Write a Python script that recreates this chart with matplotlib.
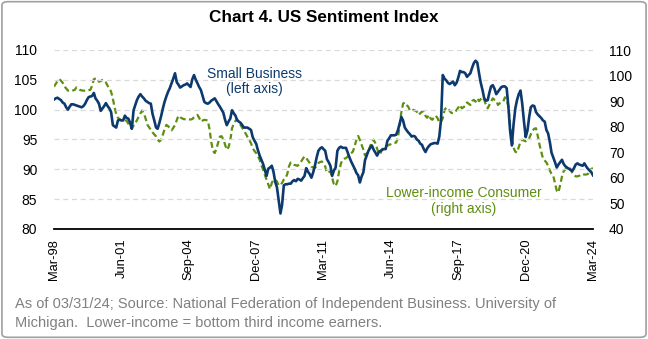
import matplotlib
matplotlib.use("Agg")
import matplotlib.pyplot as plt
import pandas as pd
import numpy as np
from matplotlib.patches import FancyBboxPatch

plt.rcParams['font.family'] = ['Liberation Sans', 'DejaVu Sans']

# Monthly data, Mar-1998 .. Mar-2024
dates = pd.date_range('1998-03-01', periods=313, freq='MS')

small_business = [
    # 1998 (Mar-Dec)
    101.7, 101.9, 102.0, 101.8, 101.6, 101.2, 101.0, 100.4, 100.0, 100.5,
    # 1999
    100.9, 100.9, 100.8, 100.7, 100.6, 100.5, 100.4, 100.6, 101.0, 101.6, 102.1, 102.2,
    # 2000
    102.3, 102.8, 101.9, 101.5, 101.0, 99.8, 100.2, 100.6, 101.1, 100.6, 100.2, 99.6,
    # 2001
    97.4, 97.2, 97.0, 98.2, 98.3, 98.2, 98.2, 99.0, 98.6, 98.5, 97.8, 96.8,
    # 2002
    99.9, 100.8, 101.6, 102.2, 102.6, 102.2, 101.9, 101.5, 101.3, 101.1, 101.0, 99.3,
    # 2003
    98.2, 97.0, 96.8, 97.8, 98.9, 100.2, 101.3, 102.2, 103.0, 103.6, 104.4, 105.2,
    # 2004
    106.1, 104.6, 104.2, 103.7, 103.9, 104.1, 104.2, 104.4, 104.1, 103.8, 105.1, 105.8,
    # 2005
    105.0, 104.4, 103.8, 103.3, 102.3, 101.3, 101.1, 101.0, 101.2, 101.5, 101.7, 101.9,
    # 2006
    101.4, 100.9, 100.5, 100.0, 99.5, 98.3, 97.4, 98.0, 98.5, 99.9, 99.4, 99.0,
    # 2007
    98.2, 98.0, 97.8, 97.4, 97.0, 97.0, 97.0, 96.8, 96.6, 95.4, 94.8, 94.3,
    # 2008
    93.2, 92.3, 91.6, 90.9, 89.9, 88.9, 90.1, 90.3, 90.6, 89.6, 87.9, 87.0,
    # 2009
    84.8, 82.6, 84.0, 87.3, 87.5, 87.5, 87.6, 87.6, 88.0, 88.2, 88.0, 88.4,
    # 2010
    88.3, 88.1, 88.5, 88.9, 90.2, 89.6, 89.2, 88.6, 89.5, 90.6, 92.0, 93.1,
    # 2011
    93.5, 93.7, 93.4, 93.1, 91.7, 91.2, 90.6, 88.9, 89.8, 90.3, 93.1, 93.6,
    # 2012
    93.8, 93.6, 93.6, 93.6, 92.8, 92.0, 91.3, 90.7, 90.1, 89.4, 89.0, 87.8,
    # 2013
    88.8, 89.5, 91.5, 92.3, 93.1, 93.6, 94.0, 93.3, 92.8, 92.3, 92.9, 93.1,
    # 2014
    93.3, 93.4, 93.4, 94.8, 95.2, 95.7, 95.7, 95.7, 95.8, 96.5, 97.6, 98.8,
    # 2015
    98.2, 97.0, 96.6, 96.2, 95.9, 95.5, 95.6, 95.5, 95.0, 94.8, 94.3, 94.1,
    # 2016
    93.4, 92.9, 93.5, 93.9, 94.2, 94.3, 94.4, 94.4, 94.3, 95.5, 98.4, 105.8,
    # 2017
    105.2, 104.9, 104.5, 104.3, 104.5, 104.7, 104.1, 104.5, 105.4, 106.5, 106.3, 106.3,
    # 2018
    106.1, 105.5, 105.8, 106.1, 107.0, 107.8, 108.2, 107.9, 106.1, 104.5, 103.3, 101.9,
    # 2019
    101.5, 101.6, 102.8, 103.9, 104.1, 103.5, 102.6, 103.0, 103.4, 103.8, 103.9, 103.9,
    # 2020
    103.6, 100.4, 96.5, 94.0, 97.5, 100.2, 101.6, 102.6, 103.2, 101.0, 98.0, 95.4,
    # 2021
    96.5, 98.8, 100.4, 100.7, 100.6, 99.6, 99.2, 98.9, 98.6, 98.2, 98.0, 96.6,
    # 2022
    96.0, 94.5, 92.8, 92.0, 91.2, 90.3, 90.8, 91.2, 91.6, 90.9, 90.5, 90.3,
    # 2023
    90.1, 89.9, 89.7, 90.2, 90.8, 91.0, 90.8, 90.7, 90.6, 91.0, 90.5, 90.1,
    # 2024 (Jan-Mar)
    89.8, 89.5, 89.0,
]

lower_income = [
    # 1998 (Mar-Dec)
    95.7, 96.8, 97.8, 98.6, 98.0, 97.2, 95.7, 95.0, 94.1, 94.1,
    # 1999
    94.1, 94.2, 94.4, 95.4, 95.0, 94.4, 94.2, 94.1, 94.1, 94.1, 94.3, 94.4,
    # 2000
    96.0, 98.6, 98.8, 98.9, 97.6, 97.8, 98.3, 97.8, 97.3, 96.0, 95.0, 93.7,
    # 2001
    91.0, 87.5, 85.0, 83.5, 82.9, 82.5, 82.1, 82.5, 82.3, 81.2, 80.0, 79.3,
    # 2002
    80.4, 81.5, 82.5, 84.0, 85.2, 86.3, 85.3, 83.2, 80.8, 79.8, 78.8, 77.8,
    # 2003
    77.0, 76.2, 75.0, 74.2, 75.0, 76.9, 79.0, 80.7, 80.2, 79.5, 78.6, 79.5,
    # 2004
    80.7, 82.5, 84.3, 83.7, 83.3, 83.0, 82.9, 82.9, 82.9, 82.8, 83.0, 83.7,
    # 2005
    84.2, 84.6, 83.5, 82.0, 82.4, 82.7, 82.6, 82.4, 79.0, 74.0, 70.5, 69.7,
    # 2006
    71.5, 74.0, 76.1, 76.3, 75.1, 73.0, 71.0, 72.0, 74.5, 79.4, 81.0, 82.3,
    # 2007
    82.9, 81.5, 80.7, 79.5, 78.5, 77.2, 76.0, 74.9, 73.5, 71.6, 70.5, 69.7,
    # 2008
    68.5, 67.1, 65.0, 63.2, 61.2, 59.3, 57.5, 55.6, 58.0, 59.3, 59.2, 58.6,
    # 2009
    57.0, 57.3, 58.0, 59.3, 59.8, 61.5, 64.5, 66.0, 65.8, 65.1, 64.9, 64.7,
    # 2010
    65.5, 66.4, 67.4, 68.4, 67.7, 66.8, 65.8, 64.4, 64.0, 63.9, 64.7, 65.8,
    # 2011
    66.2, 66.4, 65.5, 64.4, 62.0, 62.3, 62.5, 60.0, 57.5, 56.8, 58.6, 62.5,
    # 2012
    65.5, 67.1, 67.5, 67.7, 68.4, 69.0, 69.6, 70.3, 72.5, 74.9, 76.4, 74.9,
    # 2013
    73.0, 71.0, 68.8, 69.5, 70.3, 72.5, 74.0, 74.9, 73.5, 71.5, 69.3, 69.7,
    # 2014
    71.2, 72.1, 72.3, 72.6, 72.9, 73.2, 73.6, 73.7, 73.8, 75.5, 80.1, 85.5,
    # 2015
    89.0, 89.5, 88.5, 87.9, 86.4, 86.2, 86.6, 86.3, 85.9, 84.6, 85.3, 85.9,
    # 2016
    85.9, 84.2, 83.5, 84.6, 83.2, 82.7, 83.8, 84.3, 83.3, 81.6, 82.0, 83.3,
    # 2017
    86.6, 87.5, 87.2, 86.2, 85.4, 85.3, 85.6, 86.5, 87.5, 88.5, 87.2, 87.6,
    # 2018
    88.2, 89.5, 89.0, 88.5, 90.0, 90.5, 89.8, 91.1, 90.0, 90.8, 91.5, 90.5,
    # 2019
    88.5, 87.2, 88.5, 89.8, 91.1, 90.5, 90.2, 88.5, 89.2, 89.4, 89.8, 91.5,
    # 2020
    90.5, 88.0, 80.5, 76.5, 71.8, 70.2, 69.9, 72.0, 74.2, 74.9, 74.6, 74.3,
    # 2021
    74.8, 75.5, 77.0, 78.5, 79.2, 79.4, 76.5, 73.0, 70.3, 67.6, 66.8, 66.0,
    # 2022
    64.7, 62.8, 61.6, 60.8, 58.0, 55.0, 54.3, 57.3, 60.5, 62.6, 63.3, 63.8,
    # 2023
    64.2, 63.4, 62.0, 61.0, 60.6, 60.6, 60.8, 61.3, 61.5, 61.3, 61.3, 61.5,
    # 2024 (Jan-Mar)
    62.5, 63.5, 63.8,
]

tick_labels = ['Mar-98', 'Jun-01', 'Sep-04', 'Dec-07', 'Mar-11',
               'Jun-14', 'Sep-17', 'Dec-20', 'Mar-24']
left_ticks = [80, 85, 90, 95, 100, 105, 110]
right_ticks = [40, 50, 60, 70, 80, 90, 100, 110]

BLUE = '#0d3a6e'
GREEN = '#5f8f0f'
GRAY_TXT = '#808080'

fig = plt.figure(figsize=(6.48, 3.39), dpi=100)

# border
border = FancyBboxPatch((0.003, 0.005), 0.994, 0.99, boxstyle="round,pad=0,rounding_size=0.01",
                        transform=fig.transFigure, fill=False, edgecolor='#a0a0a0', linewidth=1.2)
fig.patches.append(border)

ax = fig.add_axes([54/648, 1-229/339, (593-54)/648, (229-50)/339])
ax2 = ax.twinx()

ax.set_zorder(ax2.get_zorder() + 1)
ax.patch.set_visible(False)

ax2.plot(dates, lower_income, color=GREEN, lw=1.6, dashes=(2.7, 1.5))
ax.plot(dates, small_business, color=BLUE, lw=1.9)

ax.set_ylim(80, 110)
ax2.set_ylim(40, 110)
ax.set_xlim(dates[0], dates[-1])

ax.set_yticks(left_ticks)
ax2.set_yticks(right_ticks)

for v in left_ticks[1:]:
    ax.axhline(v, color='#d9d9d9', lw=0.9, dashes=(4, 3), zorder=0)

tick_pos = [dates[i * 39] for i in range(len(tick_labels))]
ax.set_xticks(tick_pos)
ax.set_xticklabels(tick_labels, rotation=90, fontsize=9.3)

for a in (ax, ax2):
    for s in ('top', 'left', 'right', 'bottom'):
        a.spines[s].set_visible(False)
ax.spines['bottom'].set_visible(True)
ax.spines['bottom'].set_linewidth(1.3)
ax.spines['bottom'].set_color('black')

ax.tick_params(axis='x', length=0, pad=7)
ax.tick_params(axis='y', length=0, pad=12, labelsize=10)
ax2.tick_params(axis='y', length=0, pad=11.5, labelsize=10)
ax2.tick_params(axis='x', length=0)

ax.text(dates[116], 104.7, 'Small Business\n(left axis)', color=BLUE, fontsize=10,
        ha='center', va='center', linespacing=1.15)
ax2.text(dates[237], 51.0, 'Lower-income Consumer\n(right axis)', color=GREEN, fontsize=10,
         ha='center', va='center', linespacing=1.15)

fig.text(0.5, 1-17/339, 'Chart 4. US Sentiment Index', ha='center', va='center',
         fontsize=12.3, fontweight='bold')

fig.text(15/648, 1-304/339, 'As of 03/31/24; Source: National Federation of Independent Business. University of',
         ha='left', va='center', fontsize=10.5, color=GRAY_TXT)
fig.text(15/648, 1-323/339, 'Michigan.  Lower-income = bottom third income earners.',
         ha='left', va='center', fontsize=10.5, color=GRAY_TXT)

fig.savefig('out.png', dpi=100)
